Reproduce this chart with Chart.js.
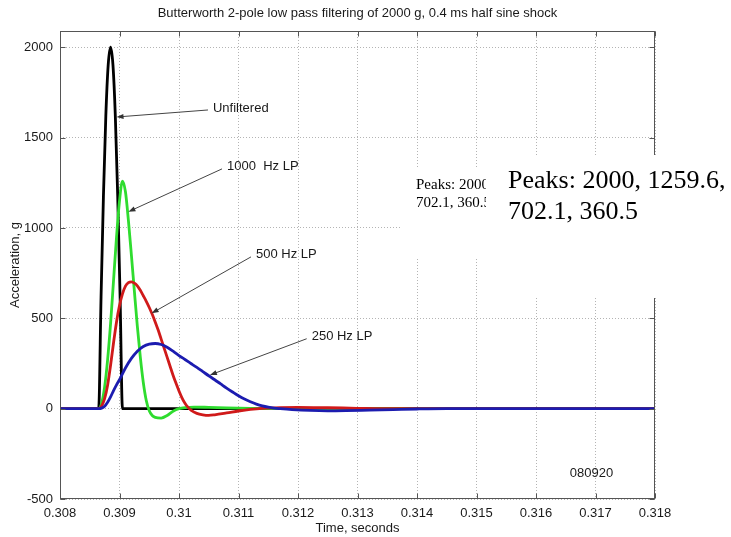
<!DOCTYPE html>
<html>
<head>
<meta charset="utf-8">
<script src="https://cdn.jsdelivr.net/npm/chart.js@4.4.0/dist/chart.umd.min.js"></script>
<style>
  html, body { margin: 0; padding: 0; background: #fff; }
  canvas { display: block; }
</style>
</head>
<body>
<canvas id="shockChart" width="731" height="537"></canvas>
<script>
// time in seconds, acceleration in g
const unfilteredT = [0.308, 0.30865, 0.30869, 0.30873, 0.30877, 0.30881, 0.30885, 0.30889, 0.30893, 0.30897, 0.30901, 0.30905, 0.318];
const unfilteredG = [0, 0, 618, 1176, 1618, 1902, 2000, 1902, 1618, 1176, 618, 0, 0];

const lp1000T = [0.308, 0.30865, 0.30870, 0.30875, 0.30880, 0.30885, 0.30890, 0.30895, 0.30900, 0.30905, 0.30910,
  0.30915, 0.30920, 0.30925, 0.30930, 0.30935, 0.30940, 0.30945, 0.30950, 0.30955, 0.30960, 0.30970, 0.30980,
  0.30990, 0.31000, 0.31010, 0.31025, 0.31050, 0.31080, 0.31120, 0.31160, 0.318];
const lp1000G = [0, 0, 30, 120, 270, 470, 710, 950, 1150, 1259.6, 1200,
  1040, 850, 650, 455, 285, 145, 45, -12, -38, -48, -52, -38,
  -14, 0, 6, 9, 7, 4, 1, 0, 0];

const lp500T = [0.308, 0.30865, 0.30870, 0.30875, 0.30880, 0.30885, 0.30890, 0.30895, 0.30900, 0.30905, 0.30910,
  0.30915, 0.30920, 0.30925, 0.30930, 0.30935, 0.30940, 0.30945, 0.30950, 0.30955, 0.30960, 0.30965, 0.30970,
  0.30975, 0.30980, 0.30985, 0.30990, 0.30995, 0.31000, 0.31005, 0.31010, 0.31015, 0.31020, 0.31030, 0.31040,
  0.31050, 0.31060, 0.31080, 0.31100, 0.31120, 0.31140, 0.31170, 0.31200, 0.31250, 0.31300, 0.31350, 0.318];
const lp500G = [0, 0, 15, 55, 130, 240, 365, 480, 570, 635, 678,
  698, 702.1, 695, 680, 655, 625, 594, 560, 522, 480, 435, 385,
  335, 285, 235, 185, 140, 98, 60, 30, 8, -8, -26, -34,
  -37, -34, -24, -13, -4, 2, 6, 7, 5, 2, 0, 0];

const lp250T = [0.308, 0.30865, 0.30870, 0.30875, 0.30880, 0.30885, 0.30890, 0.30895, 0.30900, 0.30910, 0.30920,
  0.30930, 0.30940, 0.30950, 0.30960, 0.30970, 0.30980, 0.30990, 0.31000, 0.31010, 0.31020, 0.31030, 0.31040,
  0.31050, 0.31060, 0.31070, 0.31080, 0.31090, 0.31100, 0.31110, 0.31120, 0.31130, 0.31140, 0.31150, 0.31160,
  0.31170, 0.31190, 0.31220, 0.31250, 0.31280, 0.31320, 0.31360, 0.31400, 0.31450, 0.318];
const lp250G = [0, 0, 3, 13, 35, 65, 100, 132, 160, 225, 278,
  318, 344, 357, 360.5, 355, 340, 318, 294, 272, 250, 228, 205,
  182, 160, 137, 114, 92, 71, 53, 38, 25, 15, 8, 3,
  0, -5, -10, -12, -11, -8, -5, -2, 0, 0];

const xTickValues = [0.308, 0.309, 0.310, 0.311, 0.312, 0.313, 0.314, 0.315, 0.316, 0.317, 0.318];
const xTickLabels = ['0.308', '0.309', '0.31', '0.311', '0.312', '0.313', '0.314', '0.315', '0.316', '0.317', '0.318'];
const yTickValues = [-500, 0, 500, 1000, 1500, 2000];

// callouts: label anchor, arrow tip (data units)
const noteLabels = ['Unfiltered', '1000  Hz LP', '500 Hz LP', '250 Hz LP'];
const noteT = [0.310571, 0.310807, 0.311294, 0.312230];
const noteG = [1664, 1338, 851, 398];
const noteTipT = [0.30895, 0.30915, 0.30954, 0.31052];
const noteTipG = [1614, 1090, 528, 186];
const stampText = '080920';
const stampT = 0.316933;
const stampG = -356;

const TEXT_FONT = "13px 'Liberation Sans', Arial, sans-serif";
const TEXT_COLOR = '#1a1a1a';

function toPoints(ts, gs) {
  return ts.map((t, i) => ({ x: t, y: gs[i] }));
}

const peakValues = [unfilteredG, lp1000G, lp500G, lp250G].map(s => Math.max(...s));
const peakLines = [
  'Peaks: ' + peakValues[0] + ', ' + peakValues[1] + ',',
  peakValues[2] + ', ' + peakValues[3]
];

function drawArrow(ctx, x0, y0, x1, y1) {
  const ang = Math.atan2(y1 - y0, x1 - x0);
  const len = 7, half = 2.6;
  ctx.beginPath();
  ctx.moveTo(x0, y0);
  ctx.lineTo(x1 - Math.cos(ang) * len * 0.8, y1 - Math.sin(ang) * len * 0.8);
  ctx.stroke();
  ctx.beginPath();
  ctx.moveTo(x1, y1);
  ctx.lineTo(x1 - Math.cos(ang) * len - Math.sin(ang) * half, y1 - Math.sin(ang) * len + Math.cos(ang) * half);
  ctx.lineTo(x1 - Math.cos(ang) * len + Math.sin(ang) * half, y1 - Math.sin(ang) * len - Math.cos(ang) * half);
  ctx.closePath();
  ctx.fill();
}

const frameAndNotes = {
  id: 'frameAndNotes',
  afterDraw(chart) {
    const ctx = chart.ctx;
    const a = chart.chartArea;
    const xs = chart.scales.x, ys = chart.scales.y;
    ctx.save();

    // box round the axes, with inward ticks on all sides
    ctx.strokeStyle = '#555';
    ctx.lineWidth = 1;
    const l = Math.round(a.left) + 0.5, r = Math.round(a.right) - 0.5;
    const t = Math.round(a.top) + 0.5, b = Math.round(a.bottom) - 0.5;
    ctx.strokeRect(l, t, r - l, b - t);
    ctx.beginPath();
    xTickValues.forEach(v => {
      const px = Math.round(xs.getPixelForValue(v)) + 0.5;
      ctx.moveTo(px, b); ctx.lineTo(px, b - 5);
      ctx.moveTo(px, t); ctx.lineTo(px, t + 5);
    });
    yTickValues.forEach(v => {
      const py = Math.round(ys.getPixelForValue(v)) + 0.5;
      ctx.moveTo(l, py); ctx.lineTo(l + 5, py);
      ctx.moveTo(r, py); ctx.lineTo(r - 5, py);
    });
    ctx.stroke();

    // callouts
    ctx.font = TEXT_FONT;
    ctx.textBaseline = 'middle';
    ctx.textAlign = 'left';
    noteLabels.forEach((txt, i) => {
      const lx = xs.getPixelForValue(noteT[i]);
      const ly = ys.getPixelForValue(noteG[i]);
      const tx = xs.getPixelForValue(noteTipT[i]);
      const ty = ys.getPixelForValue(noteTipG[i]);
      ctx.strokeStyle = '#444';
      ctx.fillStyle = '#333';
      ctx.lineWidth = 1;
      drawArrow(ctx, lx - 5, ly + 2, tx, ty);
      ctx.fillStyle = TEXT_COLOR;
      ctx.fillText(txt, lx, ly);
    });
    ctx.textAlign = 'center';
    ctx.fillText(stampText, xs.getPixelForValue(stampT), ys.getPixelForValue(stampG));

    // peak summary boxes
    ctx.textAlign = 'left';
    ctx.textBaseline = 'alphabetic';
    ctx.fillStyle = '#fff';
    ctx.fillRect(402, 167, 86, 90);
    ctx.fillStyle = '#000';
    ctx.font = "15px 'Liberation Serif', 'Times New Roman', serif";
    ctx.fillText(peakLines[0], 416, 189);
    ctx.fillText(peakLines[1], 416, 207);
    ctx.fillStyle = '#fff';
    ctx.fillRect(486, 155, 245, 143);
    ctx.fillStyle = '#000';
    ctx.font = "26px 'Liberation Serif', 'Times New Roman', serif";
    ctx.fillText(peakLines[0], 508, 188);
    ctx.fillText(peakLines[1], 508, 219);
    ctx.restore();
  }
};

const lineStyle = {
  borderWidth: 2.8,
  pointRadius: 0,
  fill: false,
  cubicInterpolationMode: 'monotone'
};

const chart = new Chart(document.getElementById('shockChart').getContext('2d'), {
  type: 'line',
  data: {
    datasets: [
      { ...lineStyle, label: 'Unfiltered', data: toPoints(unfilteredT, unfilteredG), borderColor: '#000000', order: 3 },
      { ...lineStyle, label: '1000 Hz LP', data: toPoints(lp1000T, lp1000G), borderColor: '#2fdc2f', order: 2 },
      { ...lineStyle, label: '500 Hz LP', data: toPoints(lp500T, lp500G), borderColor: '#d01a1a', order: 1 },
      { ...lineStyle, label: '250 Hz LP', data: toPoints(lp250T, lp250G), borderColor: '#1c1cb0', order: 0 }
    ]
  },
  options: {
    responsive: false,
    animation: false,
    devicePixelRatio: 1,
    layout: { padding: { left: 0, right: 76, top: 0, bottom: 0 } },
    plugins: {
      legend: { display: false },
      tooltip: { enabled: false },
      title: {
        display: true,
        fullSize: false,
        text: 'Butterworth 2-pole low pass filtering of 2000 g, 0.4 ms half sine shock',
        color: TEXT_COLOR,
        font: { family: "'Liberation Sans', Arial, sans-serif", size: 13, weight: 'normal' },
        padding: { top: 6, bottom: 9.4 }
      }
    },
    scales: {
      x: {
        type: 'linear',
        min: 0.308,
        max: 0.318,
        afterBuildTicks: s => { s.ticks = xTickValues.map(v => ({ value: v })); },
        afterFit: s => { s.height = 38; },
        ticks: {
          autoSkip: false,
          maxRotation: 0,
          padding: 7,
          color: TEXT_COLOR,
          font: { family: "'Liberation Sans', Arial, sans-serif", size: 13 },
          callback: (v, i) => xTickLabels[i]
        },
        grid: { color: '#b4b4b4', lineWidth: 1, drawTicks: false },
        border: { display: false, dash: [1, 2] },
        title: {
          display: true,
          text: 'Time, seconds',
          color: TEXT_COLOR,
          font: { family: "'Liberation Sans', Arial, sans-serif", size: 13 },
          padding: { top: 0, bottom: 1 }
        }
      },
      y: {
        type: 'linear',
        min: -500,
        max: 2090,
        afterBuildTicks: s => { s.ticks = yTickValues.map(v => ({ value: v })); },
        afterFit: s => { s.width = 60; },
        ticks: {
          autoSkip: false,
          padding: 7,
          color: TEXT_COLOR,
          font: { family: "'Liberation Sans', Arial, sans-serif", size: 13 },
          callback: v => String(v)
        },
        grid: { color: '#b4b4b4', lineWidth: 1, drawTicks: false },
        border: { display: false, dash: [1, 2] },
        title: {
          display: true,
          text: 'Acceleration, g',
          color: TEXT_COLOR,
          font: { family: "'Liberation Sans', Arial, sans-serif", size: 13 },
          padding: { top: 8, bottom: 0 }
        }
      }
    }
  },
  plugins: [frameAndNotes]
});
</script>
</body>
</html>
